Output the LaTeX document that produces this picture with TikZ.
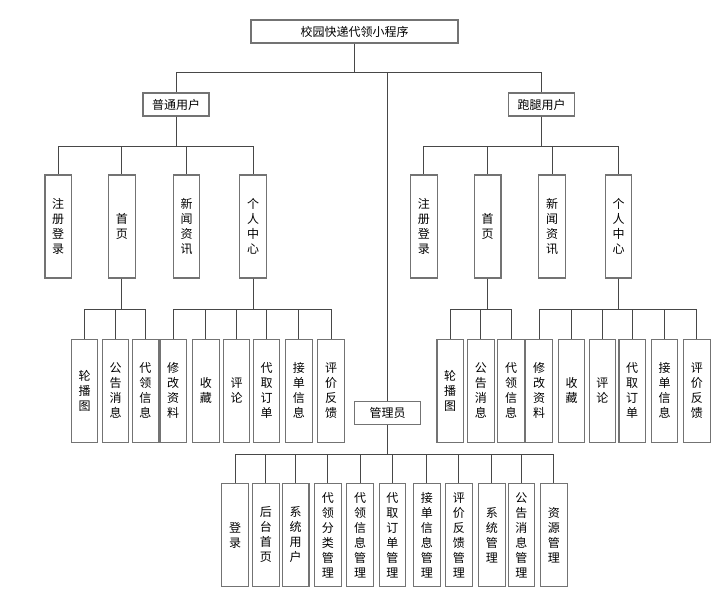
\documentclass[tikz,border=0pt]{standalone}
\usepackage{fontspec}
\setmainfont{Noto Sans CJK SC}
\begin{document}
\begin{tikzpicture}[x=1pt,y=-1pt,
  bx/.style={draw=black!55,line width=1.1pt,fill=white,inner sep=0pt,
    font=\fontsize{12}{15}\selectfont,align=center},
  hb/.style={bx,minimum height=23pt},
  vb/.style={bx,minimum width=26.5pt,minimum height=103pt},
  ln/.style={draw=black!72,line width=0.9pt}]
\fill[white] (0,0) rectangle (728,601);
\useasboundingbox (0,0) rectangle (728,601);
% top levels
\node[hb,minimum width=207pt] (root) at (354.5,31.5) {校园快递代领小程序};
\node[hb,minimum width=66pt] (u1) at (176,104.5) {普通用户};
\node[hb,minimum width=66pt] (u2) at (541.7,104.5) {跑腿用户};
\node[hb,minimum width=66pt] (ad) at (387.5,413) {管理员};
% left level 2
\node[vb] (a1) at (58.2,226.5) {注\\册\\登\\录};
\node[vb] (a2) at (121.9,226.5) {首\\页};
\node[vb] (a3) at (186.5,226.5) {新\\闻\\资\\讯};
\node[vb] (a4) at (253,226.5) {个\\人\\中\\心};
% right level 2
\node[vb] (b1) at (423.9,226.5) {注\\册\\登\\录};
\node[vb] (b2) at (487.7,226.5) {首\\页};
\node[vb] (b3) at (552,226.5) {新\\闻\\资\\讯};
\node[vb] (b4) at (618.5,226.5) {个\\人\\中\\心};
% left level 3
\node[vb] (c1) at (84.5,390.7) {轮\\播\\图};
\node[vb] (c2) at (115.5,390.7) {公\\告\\消\\息};
\node[vb] (c3) at (145.3,390.7) {代\\领\\信\\息};
\node[vb] (c4) at (173.2,390.7) {修\\改\\资\\料};
\node[vb] (c5) at (205.8,390.7) {收\\藏};
\node[vb] (c6) at (236.5,390.7) {评\\论};
\node[vb] (c7) at (266.5,390.7) {代\\取\\订\\单};
\node[vb] (c8) at (298.8,390.7) {接\\单\\信\\息};
\node[vb] (c9) at (331,390.7) {评\\价\\反\\馈};
% right level 3
\node[vb] (d1) at (450.2,390.7) {轮\\播\\图};
\node[vb] (d2) at (480.8,390.7) {公\\告\\消\\息};
\node[vb] (d3) at (511,390.7) {代\\领\\信\\息};
\node[vb] (d4) at (539,390.7) {修\\改\\资\\料};
\node[vb] (d5) at (571.5,390.7) {收\\藏};
\node[vb] (d6) at (602.3,390.7) {评\\论};
\node[vb] (d7) at (632.2,390.7) {代\\取\\订\\单};
\node[vb] (d8) at (664.5,390.7) {接\\单\\信\\息};
\node[vb] (d9) at (696.8,390.7) {评\\价\\反\\馈};
% admin level
\node[vb] (e1) at (235,535) {登\\录};
\node[vb] (e2) at (265.8,535) {后\\台\\首\\页};
\node[vb] (e3) at (295.7,535) {系\\统\\用\\户};
\node[vb] (e4) at (327.8,535) {代\\领\\分\\类\\管\\理};
\node[vb] (e5) at (360,535) {代\\领\\信\\息\\管\\理};
\node[vb] (e6) at (392.3,535) {代\\取\\订\\单\\管\\理};
\node[vb] (e7) at (426.8,535) {接\\单\\信\\息\\管\\理};
\node[vb] (e8) at (458.8,535) {评\\价\\反\\馈\\管\\理};
\node[vb] (e9) at (491.8,535) {系\\统\\管\\理};
\node[vb] (e10) at (521.3,535) {公\\告\\消\\息\\管\\理};
\node[vb] (e11) at (553.8,535) {资\\源\\管\\理};
% connectors
\foreach \c in {u1,u2,ad} \draw[ln] (root.south) -- ++(0,29) -| (\c.north);
\foreach \c in {a1,a2,a3,a4} \draw[ln] (u1.south) -- ++(0,29.7) -| (\c.north);
\foreach \c in {b1,b2,b3,b4} \draw[ln] (u2.south) -- ++(0,29.7) -| (\c.north);
\foreach \c in {c1,c2,c3} \draw[ln] (a2.south) -- ++(0,31.3) -| (\c.north);
\foreach \c in {c4,c5,c6,c7,c8,c9} \draw[ln] (a4.south) -- ++(0,31.3) -| (\c.north);
\foreach \c in {d1,d2,d3} \draw[ln] (b2.south) -- ++(0,31.3) -| (\c.north);
\foreach \c in {d4,d5,d6,d7,d8,d9} \draw[ln] (b4.south) -- ++(0,31.3) -| (\c.north);
\foreach \c in {e1,e2,e3,e4,e5,e6,e7,e8,e9,e10,e11} \draw[ln] (ad.south) -- ++(0,29.7) -| (\c.north);
\end{tikzpicture}
\end{document}
